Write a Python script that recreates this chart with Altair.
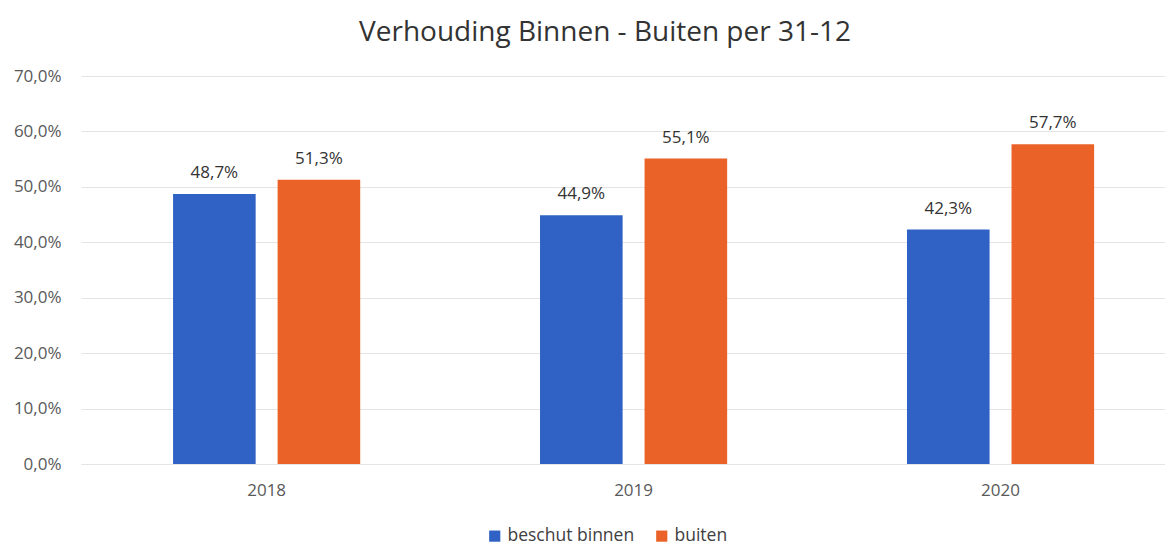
import altair as alt
import pandas as pd

years = ["2018", "2019", "2020"]
series = ["beschut binnen", "buiten"]
binnen = [0.487, 0.449, 0.423]
buiten = [0.513, 0.551, 0.577]

rows = []
for i, y in enumerate(years):
    rows.append({"jaar": y, "serie": series[0], "waarde": binnen[i]})
    rows.append({"jaar": y, "serie": series[1], "waarde": buiten[i]})
df = pd.DataFrame(rows)

FONT = "Open Sans"
colors = ["#2f62c4", "#eb6228"]

base = alt.Chart(df).encode(
    x=alt.X("jaar:N", sort=years, title=None,
            scale=alt.Scale(paddingInner=0.49, paddingOuter=0.222, align=0.565),
            axis=alt.Axis(labelAngle=0, ticks=False, domain=False, labelPadding=18,
                          labelFontSize=17, labelColor="#595959", labelFont=FONT)),
    xOffset=alt.XOffset("serie:N", sort=series, scale=alt.Scale(paddingInner=0.21, paddingOuter=0)),
)

bars = base.mark_bar().encode(
    y=alt.Y("waarde:Q", title=None,
            scale=alt.Scale(domain=[0, 0.7]),
            axis=alt.Axis(values=[0, 0.1, 0.2, 0.3, 0.4, 0.5, 0.6, 0.7],
                          labelExpr="replace(format(datum.value, '.1%'), '.', ',')",
                          ticks=False, domain=False, labelPadding=20,
                          labelFontSize=17, labelColor="#595959", labelFont=FONT,
                          gridColor="#e4e4e4", gridWidth=1)),
    color=alt.Color("serie:N", sort=series,
                    scale=alt.Scale(domain=series, range=colors),
                    legend=alt.Legend(orient="none", legendX=405, legendY=451,
                                      direction="horizontal", title=None,
                                      symbolType="square", symbolSize=125,
                                      labelFontSize=17.5, labelColor="#404040", labelFont=FONT,
                                      columnPadding=18)),
)

labels = base.mark_text(baseline="bottom", dy=-12, fontSize=17, font=FONT, color="#333333").encode(
    y="waarde:Q",
    text=alt.Text("label:N"),
).transform_calculate(label="replace(format(datum.waarde, '.1%'), '.', ',')")

chart = (bars + labels).properties(
    width=1084, height=388,
    title=alt.TitleParams("Verhouding Binnen - Buiten per 31-12", fontSize=28, font=FONT,
                          fontWeight="normal", color="#333333", offset=20, dx=-18),
    padding={"left": 5, "top": 11, "right": 0, "bottom": 0},
).configure_view(stroke=None)

chart.save("out.html", embed_options={"renderer": "svg", "actions": False})
